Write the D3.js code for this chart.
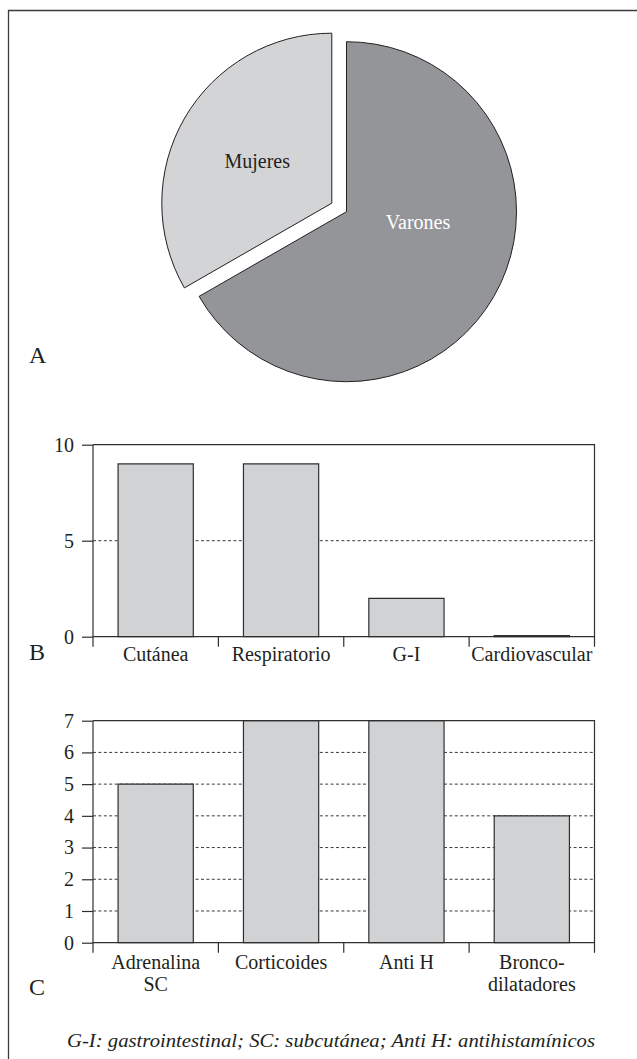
<!DOCTYPE html>
<html><head><meta charset="utf-8">
<script src="https://cdn.jsdelivr.net/npm/d3@7"></script>
<style>
body{margin:0;background:#fff}
svg{display:block}
text{font-family:"Liberation Serif","DejaVu Serif",serif;fill:#231f20}
</style>
</head><body><svg id="c" width="637" height="1059" font-family="Liberation Serif, serif"></svg>
<script>
// ---- data ----
const sexLabels = ["Varones", "Mujeres"];
const sexValues = [66.7, 33.3];
const symptomCats = ["Cutánea", "Respiratorio", "G-I", "Cardiovascular"];
const symptomValues = [9, 9, 2, 0.06];
const symptomTicks = [0, 5, 10];
const treatCats = ["Adrenalina\nSC", "Corticoides", "Anti H", "Bronco-\ndilatadores"];
const treatValues = [5, 7, 7, 4];
const treatTicks = [0, 1, 2, 3, 4, 5, 6, 7];
const panelLetters = ["A", "B", "C"];
const footnote = "G-I: gastrointestinal; SC: subcutánea; Anti H: antihistamínicos";

// ---- style ----
const ink = "#231f20";
const svg = d3.select("#c");

// outer frame (left & top)
svg.append("path").attr("d", "M8.5,1059 V10.5 H637")
  .attr("fill", "none").attr("stroke", "#3b3b3b").attr("stroke-width", 1.3);

// ---- Panel A : pie ----
const R = 170;
const pieG = svg.append("g").attr("transform", "translate(346.5,211.7)");
const pie = d3.pie().sort(null).value(d => d.v);
const arcs = pie(sexLabels.map((l, i) => ({label: l, v: sexValues[i]})));
const arc = d3.arc().innerRadius(0).outerRadius(R);
const explode = [0, 17];
const fills = ["#939598", "#d3d4d6"];
const textFill = ["#ffffff", ink];
arcs.forEach((a, i) => {
  const mid = (a.startAngle + a.endAngle) / 2;
  const dx = Math.sin(mid) * explode[i], dy = -Math.cos(mid) * explode[i];
  const g = pieG.append("g").attr("transform", `translate(${dx},${dy})`);
  g.append("path").attr("d", arc(a)).attr("fill", fills[i])
    .attr("stroke", ink).attr("stroke-width", 1);
  const c = arc.centroid(a);
  const shiftY = i === 0 ? -32 : 0;
  const shiftX = i === 0 ? -2 : -1;
  g.append("text").attr("x", c[0] + shiftX).attr("y", c[1] + shiftY).attr("dy", "0.35em")
    .attr("text-anchor", "middle").style("font-size", "20px")
    .style("fill", textFill[i]).text(a.data.label);
});
svg.append("text").attr("x", 29).attr("y", 363).style("font-size", "24px").text(panelLetters[0]);

// ---- bar chart helper ----
function barChart(cats, vals, ticks, yTop, yBottom, labelOffset) {
  const x0 = 93, x1 = 594.5;
  const x = d3.scaleBand().domain(cats).range([x0, x1]).paddingInner(0.4).paddingOuter(0.2);
  const y = d3.scaleLinear().domain([0, d3.max(ticks)]).range([yBottom, yTop]);
  const g = svg.append("g");
  const ymax = d3.max(ticks);

  // dashed gridlines
  g.selectAll(".grid").data(ticks.filter(t => t > 0 && t < ymax)).join("line")
    .attr("x1", x0).attr("x2", x1).attr("y1", d => y(d)).attr("y2", d => y(d))
    .attr("stroke", "#3b3b3b").attr("stroke-width", 1).attr("stroke-dasharray", "3,2.4");

  // bars
  g.selectAll(".bar").data(cats).join("path")
    .attr("d", (c, i) => {
      const bx = x(c), bw = x.bandwidth(), b = y(0), t = y(vals[i]);
      return `M${bx},${b}V${t}H${bx + bw}V${b}Z`;
    })
    .attr("fill", "#d1d2d4").attr("stroke", "#2f2f2f").attr("stroke-width", 1.2);

  // frame: top and right
  g.append("path").attr("d", `M${x0},${y(ymax)}H${x1}V${y(0) + 10}`)
    .attr("fill", "none").attr("stroke", "#2f2f2f").attr("stroke-width", 1.2);

  // y axis
  const ax = g.append("g").attr("transform", `translate(${x0},0)`)
    .call(d3.axisLeft(y).tickValues(ticks).tickSize(11).tickSizeOuter(0).tickPadding(8).tickFormat(d3.format("d")));
  ax.attr("font-family", null).attr("font-size", null);
  ax.select(".domain").remove();
  ax.selectAll(".tick line").attr("stroke", "#2f2f2f").attr("stroke-width", 1.2);
  ax.selectAll(".tick text").style("font-size", "20px").style("font-family", '"Liberation Serif",serif').attr("fill", ink);
  g.append("line").attr("x1", x0).attr("x2", x0).attr("y1", y(ymax)).attr("y2", y(0) + 10)
    .attr("stroke", "#2f2f2f").attr("stroke-width", 1.2);

  // x axis baseline + boundary ticks
  g.append("line").attr("x1", x0).attr("x2", x1).attr("y1", y(0)).attr("y2", y(0))
    .attr("stroke", "#2f2f2f").attr("stroke-width", 1.2);
  const bounds = cats.slice(1).map(c => x(c) - x.step() * x.paddingInner() / 2);
  g.selectAll(".bt").data(bounds).join("line")
    .attr("x1", d => d).attr("x2", d => d).attr("y1", y(0)).attr("y2", y(0) + 10)
    .attr("stroke", "#2f2f2f").attr("stroke-width", 1.2);

  // category labels
  const lbl = g.selectAll(".cl").data(cats).join("text")
    .attr("text-anchor", "middle").style("font-size", "20px")
    .attr("transform", c => `translate(${x(c) + x.bandwidth() / 2},${y(0) + labelOffset})`);
  lbl.each(function (c) {
    const lines = c.split("\n");
    d3.select(this).selectAll("tspan").data(lines).join("tspan")
      .attr("x", 0).attr("y", (d, i) => i * 22).text(d => d);
  });
  return {y};
}

barChart(symptomCats, symptomValues, symptomTicks, 444.7, 636.7, 24);
svg.append("text").attr("x", 29).attr("y", 660).style("font-size", "24px").text(panelLetters[1]);

barChart(treatCats, treatValues, treatTicks, 720.7, 942.7, 26);
svg.append("text").attr("x", 29).attr("y", 995).style("font-size", "24px").text(panelLetters[2]);

// footnote
svg.append("text").attr("x", 331).attr("y", 1047).attr("text-anchor", "middle")
  .style("font-size", "19.5px").style("font-style", "italic")
  .attr("textLength", 528).attr("lengthAdjust", "spacingAndGlyphs").text(footnote);
</script>
</body></html>
